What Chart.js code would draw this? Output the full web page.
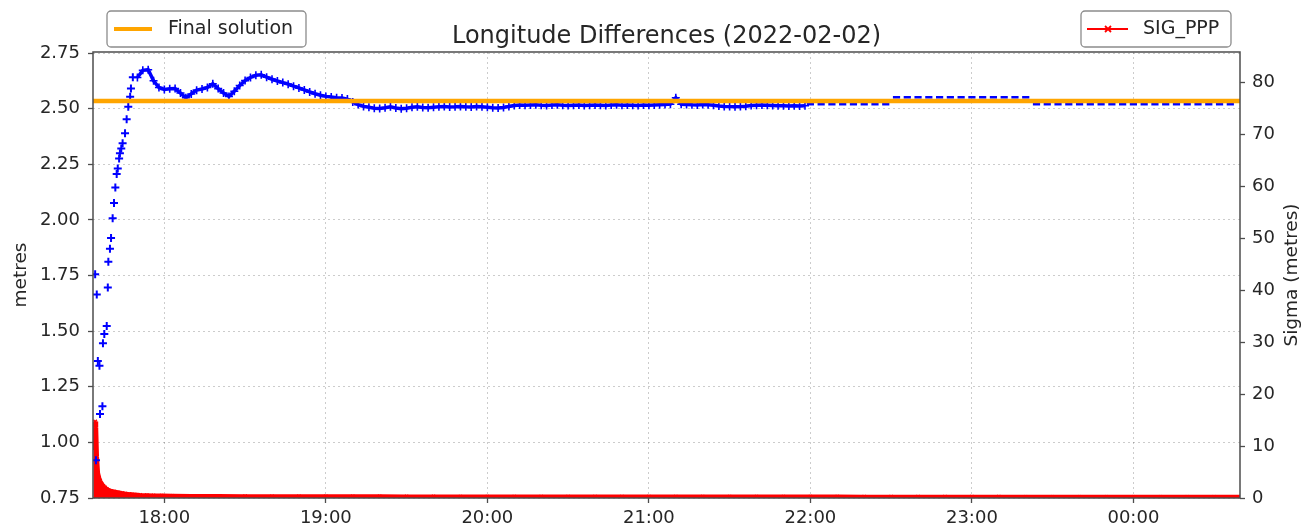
<!DOCTYPE html>
<html>
<head>
<meta charset="utf-8">
<title>Longitude Differences (2022-02-02)</title>
<script src="https://cdn.jsdelivr.net/npm/chart.js@4.4.0/dist/chart.umd.min.js"></script>
<style>
  html, body { margin: 0; padding: 0; background: #fff; }
  canvas { display: block; }
</style>
</head>
<body>
<canvas id="lonChart" width="1307" height="531"></canvas>
<script>
// x is minutes after 17:00 (so 420 = 00:00 next day)
const xMin = 33.5;
const xMax = 459.6;
const hourTicks = [60, 120, 180, 240, 300, 360, 420];
const metreTicks = [0.75, 1.0, 1.25, 1.5, 1.75, 2.0, 2.25, 2.5, 2.75];
const sigmaTicks = [0, 10, 20, 30, 40, 50, 60, 70, 80];

const finalSolution = 2.534;

// first epochs, still converging
const diffEarlyTimes = [34.3, 34.6, 34.9, 35.3, 35.9, 36.1, 37.0, 37.2, 37.7, 38.6,
                        39.0, 39.2, 39.8, 40.2, 40.8, 41.3, 41.8, 42.3, 42.7, 43.2,
                        43.5, 44.0, 44.5, 45.4, 46.0, 46.6, 47.3, 47.6, 48.3];
const diffEarlyValues = [1.756, 0.920, 1.665, 1.366, 1.344, 1.127, 1.162, 1.445, 1.487, 1.523,
                         1.696, 1.812, 1.870, 1.918, 2.007, 2.076, 2.145, 2.206, 2.231, 2.276,
                         2.299, 2.321, 2.344, 2.389, 2.452, 2.508, 2.553, 2.591, 2.641];

// every 2 min from 17:50 to 21:58
const diffMidStart = 50;
const diffMidStep = 2;
const diffMidValues = [
  2.640, 2.672, 2.675, 2.625, 2.595, 2.586, 2.589, 2.590, 2.570, 2.549,
  2.566, 2.583, 2.588, 2.595, 2.612, 2.590, 2.570, 2.555, 2.578, 2.604,
  2.626, 2.640, 2.650, 2.652, 2.641, 2.632, 2.624, 2.617, 2.610, 2.601,
  2.593, 2.584, 2.575, 2.567, 2.560, 2.555, 2.552, 2.549, 2.548, 2.543,
  2.530, 2.518, 2.510, 2.506, 2.502, 2.501, 2.504, 2.508, 2.503, 2.499,
  2.502, 2.506, 2.508, 2.505, 2.504, 2.506, 2.508, 2.509, 2.507, 2.508,
  2.510, 2.508, 2.507, 2.509, 2.508, 2.506, 2.504, 2.503, 2.505, 2.510,
  2.514, 2.516, 2.515, 2.516, 2.517, 2.515, 2.514, 2.516, 2.517, 2.515,
  2.514, 2.515, 2.516, 2.514, 2.515, 2.516, 2.515, 2.514, 2.516, 2.517,
  2.515, 2.516, 2.515, 2.514, 2.516, 2.515, 2.516, 2.517, 2.518, 2.520,
  2.549, 2.520, 2.519, 2.517, 2.516, 2.518, 2.517, 2.515, 2.512, 2.510,
  2.509, 2.508, 2.509, 2.511, 2.514, 2.515, 2.516, 2.515, 2.514, 2.513,
  2.513, 2.512, 2.513, 2.512, 2.513
];

// every 4 min from 22:00
const diffLateStart = 300;
const diffLateStep = 4;
const diffLateValues = [
  2.520, 2.520, 2.520, 2.520, 2.520, 2.520, 2.520, 2.520,
  2.551, 2.551, 2.551, 2.551, 2.551, 2.551, 2.551, 2.551, 2.551, 2.551, 2.551, 2.551, 2.551,
  2.520, 2.520, 2.520, 2.520, 2.520, 2.520, 2.520, 2.520, 2.520, 2.520,
  2.520, 2.520, 2.520, 2.520, 2.520, 2.520, 2.520, 2.520, 2.520
];

// SIG_PPP (right axis)
const sigEarlyTimes = [33.6, 34.0, 34.3, 34.6, 34.9, 35.3, 35.7, 36.1, 36.6, 37.3,
                       37.9, 38.6, 39.2, 40.0, 41.3, 42.7, 44.2, 45.4, 47.0, 49.0,
                       51.0, 53.5, 56.0, 59.0, 63.0];
const sigEarlyValues = [9.5, 12.0, 14.7, 13.6, 8.0, 4.8, 3.9, 3.3, 2.8, 2.3,
                        2.0, 1.7, 1.5, 1.35, 1.2, 1.05, 0.9, 0.8, 0.7, 0.62,
                        0.55, 0.5, 0.45, 0.42, 0.38];
const sigTailStart = 70;
const sigTailStep = 10;
const sigTailValues = [0.34, 0.32, 0.31, 0.30, 0.29, 0.28, 0.27, 0.27, 0.26, 0.26,
                       0.25, 0.25, 0.25, 0.24, 0.24, 0.24, 0.23, 0.23, 0.23, 0.23,
                       0.22, 0.22, 0.22, 0.22, 0.22, 0.21, 0.21, 0.21, 0.21, 0.21,
                       0.21, 0.20, 0.20, 0.20, 0.20, 0.20, 0.20, 0.20, 0.20, 0.20];

const FONT = '"DejaVu Sans", "Liberation Sans", sans-serif';
const TEXT = '#262626';
const BLUE = '#0000ff';

function pts(times, values) {
  return values.map((v, i) => ({ x: times[i], y: v }));
}
function stepPts(start, step, values) {
  return values.map((v, i) => ({ x: start + i * step, y: v }));
}

const sigData = pts(sigEarlyTimes, sigEarlyValues)
  .concat(stepPts(sigTailStart, sigTailStep, sigTailValues));

function hourLabel(v) {
  const h = (17 + Math.round(v / 60)) % 24;
  return String(h).padStart(2, '0') + ':00';
}

function setTicks(list) {
  return (scale) => { scale.ticks = list.map(v => ({ value: v })); };
}

// matplotlib-ish frame, title, axis labels and the two legend boxes
const decorations = {
  id: 'decorations',
  afterDraw(chart) {
    const { ctx, chartArea: a } = chart;
    const midY = (a.top + a.bottom) / 2;
    ctx.save();

    ctx.strokeStyle = '#4d4d4d';
    ctx.lineWidth = 1.5;
    ctx.strokeRect(a.left, a.top, a.right - a.left, a.bottom - a.top);

    ctx.fillStyle = TEXT;
    ctx.font = '24px ' + FONT;
    ctx.textAlign = 'center';
    ctx.textBaseline = 'alphabetic';
    ctx.fillText('Longitude Differences (2022-02-02)', (a.left + a.right) / 2, 42.5);

    ctx.font = '18.5px ' + FONT;
    ctx.textBaseline = 'middle';
    [['metres', 21], ['Sigma (metres)', 1292]].forEach(([txt, x]) => {
      ctx.save();
      ctx.translate(x, midY);
      ctx.rotate(-Math.PI / 2);
      ctx.fillText(txt, 0, 0);
      ctx.restore();
    });

    function box(x, w) {
      ctx.beginPath();
      ctx.roundRect(x, 11, w, 36, 4);
      ctx.fillStyle = 'rgba(255,255,255,0.8)';
      ctx.fill();
      ctx.strokeStyle = '#8c8c8c';
      ctx.lineWidth = 1.3;
      ctx.stroke();
    }
    ctx.textAlign = 'left';
    ctx.font = '19px ' + FONT;

    const l1 = a.left + 14;
    box(l1, 199);
    ctx.strokeStyle = '#ffa500';
    ctx.lineWidth = 4;
    ctx.beginPath();
    ctx.moveTo(l1 + 7, 29);
    ctx.lineTo(l1 + 45, 29);
    ctx.stroke();
    ctx.fillStyle = TEXT;
    ctx.fillText('Final solution', l1 + 61, 29);

    const l2 = a.right - 159;
    box(l2, 150);
    ctx.strokeStyle = '#ff0000';
    ctx.lineWidth = 1.8;
    ctx.beginPath();
    ctx.moveTo(l2 + 6, 29);
    ctx.lineTo(l2 + 47, 29);
    const cx = l2 + 27;
    ctx.moveTo(cx - 3, 26); ctx.lineTo(cx + 3, 32);
    ctx.moveTo(cx - 3, 32); ctx.lineTo(cx + 3, 26);
    ctx.stroke();
    ctx.fillStyle = TEXT;
    ctx.fillText('SIG_PPP', l2 + 62, 29);

    ctx.restore();
  }
};

const tickFont = { family: FONT, size: 18 };
const gridOpts = {
  color: 'rgba(0,0,0,0.2)',
  lineWidth: 1,
  tickLength: 5,
  tickColor: '#4d4d4d',
  tickWidth: 1.3,
  tickBorderDash: []
};

new Chart(document.getElementById('lonChart'), {
  type: 'scatter',
  data: {
    datasets: [
      {
        label: 'Final solution',
        data: [{ x: xMin, y: finalSolution }, { x: xMax, y: finalSolution }],
        yAxisID: 'yL',
        showLine: true,
        borderColor: '#ffa500',
        borderWidth: 4.5,
        pointRadius: 0,
        clip: 0
      },
      {
        label: 'Longitude difference (converging)',
        data: pts(diffEarlyTimes, diffEarlyValues),
        yAxisID: 'yL',
        showLine: false,
        pointStyle: 'cross',
        pointRadius: 4,
        pointBorderWidth: 2,
        borderColor: BLUE,
        backgroundColor: BLUE,
        clip: 0
      },
      {
        label: 'Longitude difference',
        data: stepPts(diffMidStart, diffMidStep, diffMidValues),
        yAxisID: 'yL',
        showLine: true,
        borderWidth: 3.5,
        borderColor: BLUE,
        pointStyle: 'cross',
        pointRadius: 4,
        pointBorderWidth: 1.6,
        pointBorderColor: BLUE,
        backgroundColor: BLUE,
        clip: 0
      },
      {
        label: 'Longitude difference (5 min)',
        data: stepPts(diffLateStart, diffLateStep, diffLateValues),
        yAxisID: 'yL',
        showLine: false,
        pointStyle: 'line',
        pointRadius: 3.6,
        pointBorderWidth: 2.6,
        borderColor: BLUE,
        backgroundColor: BLUE,
        clip: 0
      },
      {
        label: 'SIG_PPP',
        data: sigData,
        yAxisID: 'yR',
        showLine: true,
        borderColor: '#ff0000',
        backgroundColor: '#ff0000',
        borderWidth: 4.5,
        fill: 'origin',
        pointStyle: 'crossRot',
        pointRadius: 2.5,
        pointBorderWidth: 1.5,
        clip: 0
      }
    ]
  },
  options: {
    responsive: false,
    animation: false,
    devicePixelRatio: 1,
    layout: { padding: { top: 52, left: 0, right: 0, bottom: 0 } },
    plugins: {
      legend: { display: false },
      title: { display: false },
      tooltip: { enabled: false }
    },
    scales: {
      x: {
        type: 'linear',
        position: 'bottom',
        min: xMin,
        max: xMax,
        afterBuildTicks: setTicks(hourTicks),
        afterFit: (s) => { s.height = 33; },
        ticks: {
          callback: (v) => hourLabel(v),
          font: tickFont,
          color: TEXT,
          padding: 5,
          maxRotation: 0,
          autoSkip: false
        },
        grid: gridOpts,
        border: { display: false, dash: [2, 3] }
      },
      yL: {
        type: 'linear',
        position: 'left',
        min: 0.75,
        max: 2.7545,
        afterBuildTicks: setTicks(metreTicks),
        afterFit: (s) => { s.width = 93; },
        ticks: {
          callback: (v) => v.toFixed(2),
          font: tickFont,
          color: TEXT,
          padding: 8
        },
        grid: gridOpts,
        border: { display: false, dash: [2, 3] }
      },
      yR: {
        type: 'linear',
        position: 'right',
        min: 0,
        max: 85.8,
        afterBuildTicks: setTicks(sigmaTicks),
        afterFit: (s) => { s.width = 67; },
        ticks: {
          callback: (v) => String(v),
          font: tickFont,
          color: TEXT,
          padding: 7
        },
        grid: Object.assign({}, gridOpts, { drawOnChartArea: false }),
        border: { display: false }
      }
    }
  },
  plugins: [decorations]
});
</script>
</body>
</html>
